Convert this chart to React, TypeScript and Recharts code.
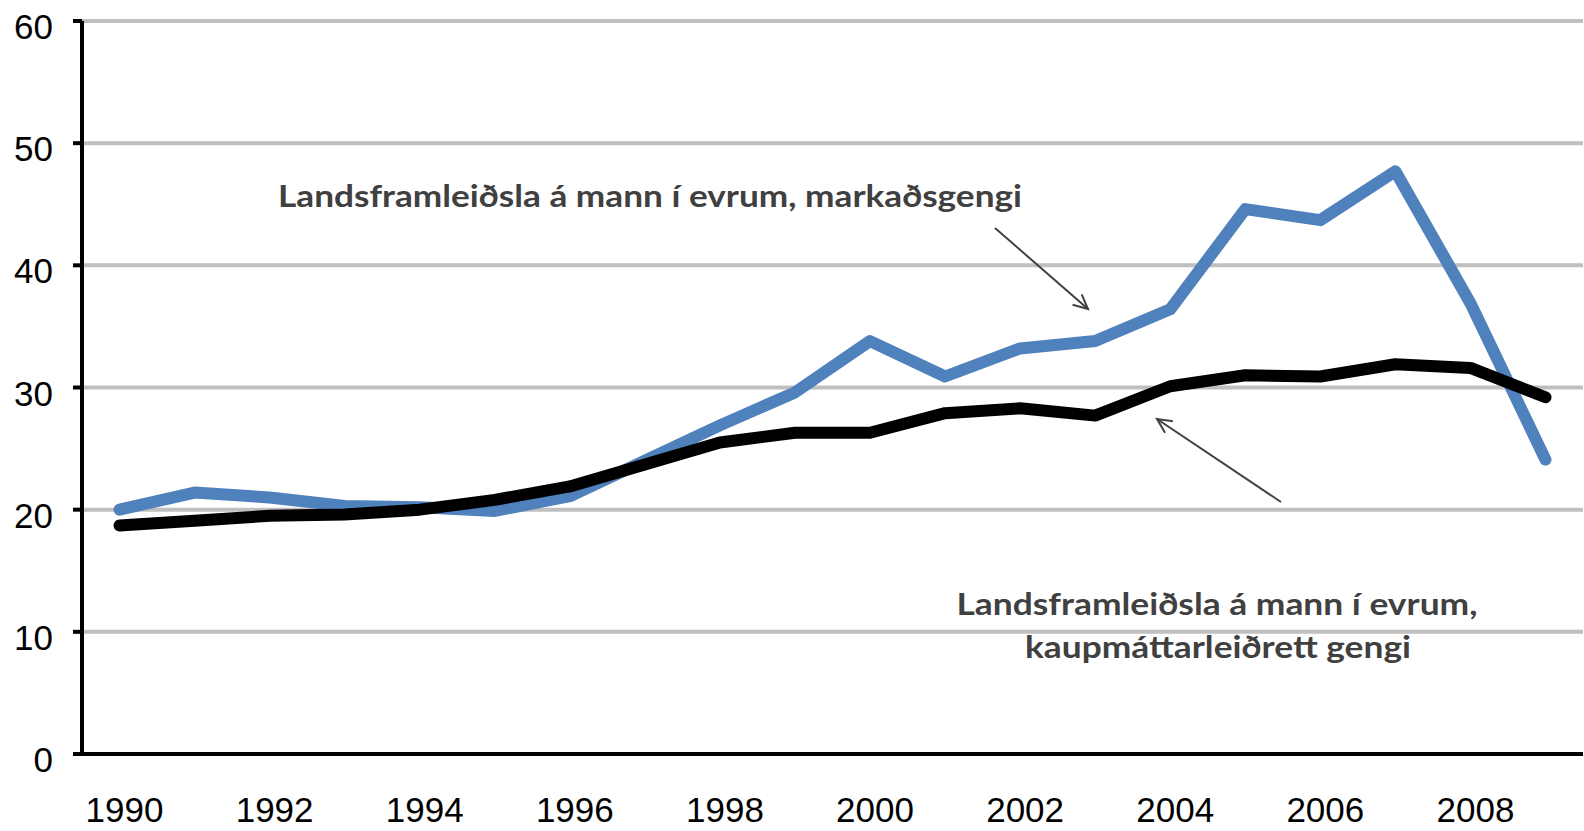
import { LineChart, Line, XAxis, YAxis, CartesianGrid } from "recharts";

// GDP per capita in euros (thousands), Iceland
const years = [1990, 1991, 1992, 1993, 1994, 1995, 1996, 1997, 1998, 1999, 2000, 2001, 2002, 2003, 2004, 2005, 2006, 2007, 2008, 2009];
const marketRate = [20.0, 21.4, 21.0, 20.3, 20.2, 19.9, 21.1, 24.0, 26.9, 29.6, 33.8, 30.9, 33.2, 33.8, 36.4, 44.6, 43.7, 47.7, 36.9, 24.1];
const pppRate = [18.7, 19.1, 19.5, 19.6, 20.0, 20.8, 21.9, 23.7, 25.5, 26.3, 26.3, 27.9, 28.3, 27.7, 30.1, 31.0, 30.9, 31.9, 31.6, 29.2];
const yTicks = [0, 10, 20, 30, 40, 50, 60];
const labelYears = [1990, 1992, 1994, 1996, 1998, 2000, 2002, 2004, 2006, 2008];

const data = years.map((y, i) => ({ year: y, market: marketRate[i], ppp: pppRate[i] }));
// tick marks sit between the years, like Excel's category axis
const boundaryTicks = years.map((y) => y - 0.5).concat([years[years.length - 1] + 0.5]);
const xDomain = [years[0] - 0.5, years[years.length - 1] + 0.5];

const W = 1584;
const H = 831;
const annColor = "#404040";

const YTick = (props: any) => {
    const { x, y, payload } = props;
    return (
        <text x={x} y={y} dy={18} textAnchor="end" fontSize={35} fontFamily="Liberation Sans" fill="#000">
            {payload.value}
        </text>
    );
};

const XLabel = (props: any) => {
    const { x, y, payload } = props;
    return (
        <text x={x} y={y} dx={5} dy={52} textAnchor="middle" fontSize={35} fontFamily="Liberation Sans" fill="#000">
            {payload.value}
        </text>
    );
};

function Arrow({ x1, y1, x2, y2 }: { x1: number; y1: number; x2: number; y2: number }) {
    const ang = Math.atan2(y2 - y1, x2 - x1);
    const len = 16;
    const spread = 0.45;
    const ax = x2 - len * Math.cos(ang - spread);
    const ay = y2 - len * Math.sin(ang - spread);
    const bx = x2 - len * Math.cos(ang + spread);
    const by = y2 - len * Math.sin(ang + spread);
    return (
        <g stroke={annColor} strokeWidth={2} fill="none">
            <line x1={x1} y1={y1} x2={x2} y2={y2} />
            <polyline points={`${ax},${ay} ${x2},${y2} ${bx},${by}`} />
        </g>
    );
}

export default function App() {
    return (
        <div style={{ position: "absolute", left: 0, top: 0, width: W, height: H, background: "#fff" }}>
            <LineChart width={W} height={H} data={data} margin={{ top: 21, right: 1, left: 0, bottom: 0 }}>
                <CartesianGrid xAxisId="a" vertical={false} stroke="#bfbfbf" strokeWidth={4} />
                <XAxis
                    xAxisId="a"
                    dataKey="year"
                    type="number"
                    domain={xDomain}
                    ticks={boundaryTicks}
                    tick={false}
                    tickSize={16}
                    height={16}
                    axisLine={{ stroke: "#000", strokeWidth: 4 }}
                    tickLine={{ stroke: "#000", strokeWidth: 4 }}
                />
                <XAxis
                    xAxisId="b"
                    dataKey="year"
                    type="number"
                    domain={xDomain}
                    ticks={labelYears}
                    tick={<XLabel />}
                    tickSize={0}
                    tickMargin={0}
                    height={61}
                    axisLine={false}
                    tickLine={false}
                />
                <YAxis
                    domain={[0, 60]}
                    ticks={yTicks}
                    width={82}
                    tickSize={9}
                    tickMargin={20}
                    tick={<YTick />}
                    axisLine={{ stroke: "#000", strokeWidth: 4 }}
                    tickLine={{ stroke: "#000", strokeWidth: 4 }}
                />
                <Line
                    xAxisId="a"
                    type="linear"
                    dataKey="market"
                    stroke="#4f81bd"
                    strokeWidth={12}
                    strokeLinecap="round"
                    strokeLinejoin="round"
                    dot={false}
                    isAnimationActive={false}
                />
                <Line
                    xAxisId="a"
                    type="linear"
                    dataKey="ppp"
                    stroke="#000"
                    strokeWidth={12}
                    strokeLinecap="round"
                    strokeLinejoin="round"
                    dot={false}
                    isAnimationActive={false}
                />
            </LineChart>
            <svg width={W} height={H} style={{ position: "absolute", left: 0, top: 0, pointerEvents: "none" }}>
                <g fontFamily="Lato" fontWeight={700} fontSize={31} fill={annColor} textAnchor="middle">
                    <text x={650} y={207} textLength={744} lengthAdjust="spacingAndGlyphs">
                        Landsframleiðsla á mann í evrum, markaðsgengi
                    </text>
                    <text x={1217} y={615} textLength={521} lengthAdjust="spacingAndGlyphs">
                        Landsframleiðsla á mann í evrum,
                    </text>
                    <text x={1218} y={658} textLength={386} lengthAdjust="spacingAndGlyphs">
                        kaupmáttarleiðrett gengi
                    </text>
                </g>
                <Arrow x1={995} y1={228} x2={1088} y2={309} />
                <Arrow x1={1281} y1={502} x2={1157} y2={419} />
            </svg>
        </div>
    );
}
